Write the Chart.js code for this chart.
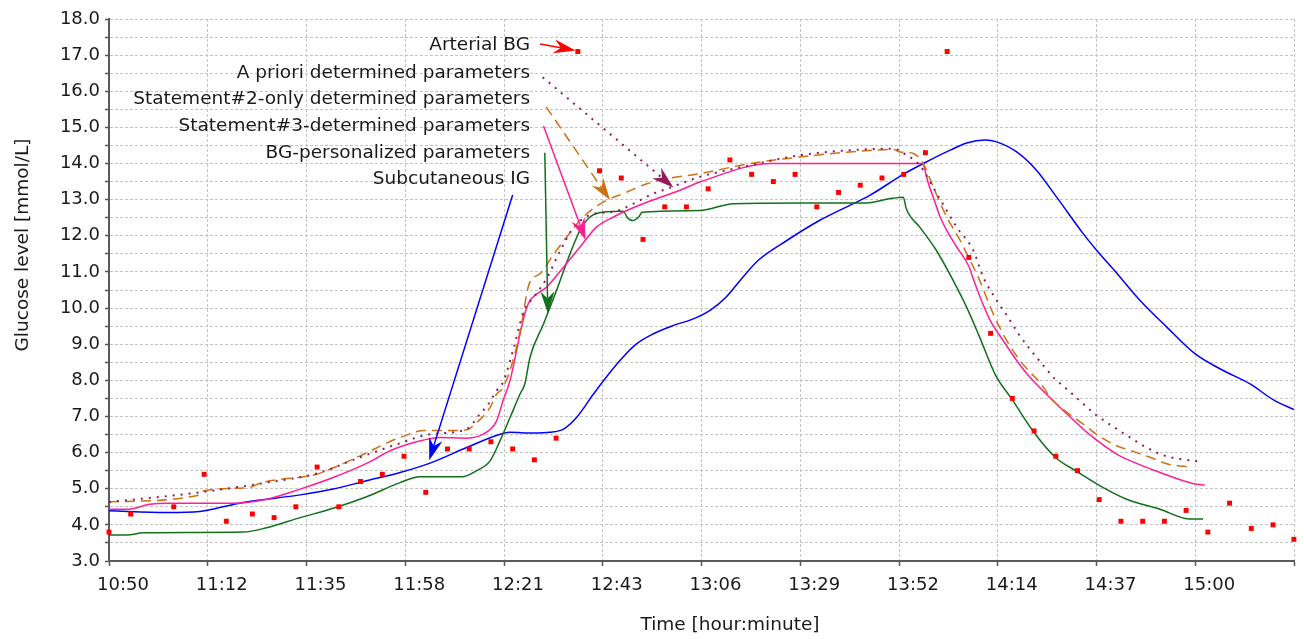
<!DOCTYPE html>
<html>
<head>
<meta charset="utf-8">
<title>Glucose level</title>
<script src="https://cdn.jsdelivr.net/npm/chart.js@4/dist/chart.umd.min.js"></script>
<style>
  html, body { margin: 0; padding: 0; background: #ffffff; }
  #wrap { width: 1304px; height: 639px; }
</style>
</head>
<body>
<div id="wrap"><canvas id="glucoseChart" width="1304" height="639"></canvas></div>
<script>
// x values are minutes after 10:50, one grid step = 250/11 min
const xTickLabels = ['10:50', '11:12', '11:35', '11:58', '12:21', '12:43', '13:06', '13:29', '13:52', '14:14', '14:37', '15:00', ''];
const xStep = 250 / 11;

// Arterial BG samples
const bgTime = [0.0, 5.0, 14.9, 21.9, 27.0, 33.0, 38.0, 43.0, 47.9, 52.9, 57.9, 62.9, 67.9, 72.9, 77.9, 82.9, 87.9, 92.9, 97.9, 102.9,
  107.9, 112.9, 117.9, 122.9, 127.9, 132.9, 137.9, 142.9, 147.9, 152.9, 157.9, 162.9, 167.9, 172.9, 177.9, 182.9, 187.9, 192.9,
  197.9, 202.9, 207.9, 212.9, 217.9, 222.9, 227.9, 232.9, 237.9, 242.9, 247.9, 252.9, 257.9, 262.9, 267.9, 272.7];
const bgLevel = [3.8, 4.3, 4.5, 5.4, 4.1, 4.3, 4.2, 4.5, 5.6, 4.5, 5.2, 5.4, 5.9, 4.9, 6.1, 6.1, 6.3, 6.1, 5.8, 6.4,
  17.1, 13.8, 13.6, 11.9, 12.8, 12.8, 13.3, 14.1, 13.7, 13.5, 13.7, 12.8, 13.2, 13.4, 13.6, 13.7, 14.3, 17.1,
  11.4, 9.3, 7.5, 6.6, 5.9, 5.5, 4.7, 4.1, 4.1, 4.1, 4.4, 3.8, 4.6, 3.9, 4.0, 3.6];

// A priori determined parameters
const aprioriTime = [0.0, 20.9, 36.3, 47.8, 57.8, 67.0, 73.9, 82.3, 85.4, 87.3, 89.2, 90.7, 93.2, 95.5, 97.8, 100.9, 103.9, 107.0,
  111.6, 116.1, 120.7, 125.3, 128.4, 136.0, 147.5, 159.0, 170.5, 180.5, 183.6, 186.6, 190.5, 195.1, 198.9, 201.2, 204.3, 206.9,
  209.3, 211.9, 214.7, 217.7, 220.8, 224.2, 227.3, 231.1, 235.0, 238.8, 242.6, 246.5, 251.5];
const aprioriLevel = [4.63, 4.90, 5.17, 5.42, 5.87, 6.26, 6.51, 6.65, 7.07, 7.34, 7.71, 7.95, 8.92, 9.93, 10.30, 10.86, 11.60, 12.24,
  12.61, 12.66, 12.89, 13.17, 13.30, 13.63, 13.95, 14.23, 14.37, 14.41, 14.23, 13.95, 13.17, 12.24, 11.60, 10.86, 10.21, 9.75,
  9.29, 8.87, 8.46, 8.04, 7.72, 7.35, 7.03, 6.72, 6.42, 6.14, 5.93, 5.82, 5.75];

// Statement#2-only determined parameters
const stmt2Time = [0.0, 20.9, 21.6, 32.1, 35.1, 47.8, 50.9, 57.8, 67.0, 72.7, 77.6, 82.3, 84.6, 87.7, 89.2, 90.7, 93.2, 94.8, 96.7,
  99.2, 102.4, 105.3, 108.4, 111.4, 114.5, 118.4, 123.8, 128.4, 136.0, 147.5, 159.0, 170.5, 180.5, 182.1, 185.1, 187.4, 189.7,
  192.8, 195.9, 198.2, 200.4, 203.5, 206.2, 208.8, 211.6, 214.2, 216.9, 220.4, 224.2, 227.7, 231.9, 235.3, 239.6, 243.8, 248.0];
const stmt2Level = [4.64, 4.83, 4.94, 5.03, 5.17, 5.40, 5.54, 5.91, 6.42, 6.61, 6.61, 6.63, 6.83, 7.25, 7.62, 7.80, 8.64, 9.47, 10.67,
  10.95, 11.50, 11.96, 12.43, 12.75, 12.98, 13.17, 13.44, 13.58, 13.72, 14.00, 14.18, 14.32, 14.39, 14.32, 14.28, 14.00, 13.35,
  12.52, 11.87, 11.32, 10.76, 9.84, 9.19, 8.69, 8.27, 7.95, 7.49, 7.12, 6.79, 6.47, 6.19, 6.05, 5.87, 5.68, 5.61];

// Statement#3-determined parameters
const stmt3Time = [0.0, 4.1, 9.4, 13.3, 28.6, 36.3, 44.0, 51.6, 59.3, 64.7, 70.8, 76.2, 82.3, 86.1, 89.2, 90.7, 92.3, 93.8, 95.0,
  96.1, 96.9, 100.7, 104.6, 108.4, 112.2, 116.1, 118.4, 123.8, 131.4, 136.0, 152.5, 187.4, 187.8, 188.6, 189.7, 191.3, 192.8,
  195.1, 198.0, 198.5, 200.5, 202.8, 205.8, 208.9, 211.5, 218.9, 226.5, 231.9, 234.2, 241.9, 249.6, 252.2];
const stmt3Level = [4.43, 4.43, 4.57, 4.60, 4.60, 4.71, 4.99, 5.31, 5.70, 6.05, 6.30, 6.42, 6.40, 6.51, 6.88, 7.44, 8.00, 8.82, 9.50,
  10.00, 10.21, 10.58, 11.13, 11.69, 12.24, 12.52, 12.66, 12.93, 13.26, 13.49, 14.00, 14.00, 13.81, 13.44, 13.07, 12.52, 12.15,
  11.69, 11.13, 10.95, 10.30, 9.66, 9.10, 8.55, 8.15, 7.25, 6.42, 5.96, 5.82, 5.45, 5.14, 5.10];

// BG-personalized parameters
const personalTime = [0.0, 4.1, 7.9, 30.9, 36.3, 44.0, 51.6, 59.3, 67.0, 71.6, 81.2, 84.6, 87.7, 90.0, 92.3, 94.6, 95.7, 96.9,
  100.0, 103.0, 106.1, 108.4, 110.7, 113.8, 118.4, 119.2, 120.5, 121.9, 122.7, 136.0, 143.7, 159.0, 174.4, 179.8, 182.8, 183.5,
  186.6, 190.4, 194.3, 197.4, 200.4, 204.0, 207.8, 212.7, 217.7, 222.7, 228.1, 234.2, 241.9, 248.8, 251.8];
const personalLevel = [3.72, 3.72, 3.78, 3.80, 3.92, 4.20, 4.46, 4.78, 5.17, 5.33, 5.33, 5.50, 5.77, 6.33, 6.97, 7.62, 7.90, 8.64,
  9.56, 10.49, 11.50, 12.15, 12.52, 12.66, 12.68, 12.52, 12.42, 12.52, 12.65, 12.70, 12.89, 12.91, 12.91, 13.03, 13.07, 12.75,
  12.24, 11.60, 10.76, 10.02, 9.19, 8.15, 7.48, 6.59, 5.88, 5.48, 5.08, 4.71, 4.43, 4.16, 4.16];

// Subcutaneous IG
const igTime = [0.0, 13.3, 20.9, 23.2, 30.9, 44.0, 51.6, 59.3, 67.0, 73.9, 82.3, 90.0, 92.2, 97.7, 101.5, 104.6, 107.6, 111.5,
  113.8, 117.6, 121.4, 125.3, 129.9, 134.5, 138.5, 142.0, 145.5, 149.5, 156.0, 163.6, 171.3, 175.1, 182.8, 187.4, 193.6, 197.4, 201.6,
  204.3, 208.9, 213.5, 218.1, 224.2, 227.3, 231.9, 237.3, 243.4, 250.0, 256.0, 262.6, 268.0, 272.7];
const igLevel = [4.39, 4.34, 4.37, 4.42, 4.62, 4.83, 4.99, 5.22, 5.45, 5.71, 6.14, 6.51, 6.56, 6.54, 6.56, 6.65, 6.97, 7.62,
  7.99, 8.55, 9.01, 9.29, 9.52, 9.70, 9.95, 10.30, 10.80, 11.33, 11.87, 12.43, 12.89, 13.12, 13.70, 14.00, 14.37, 14.57, 14.65,
  14.60, 14.32, 13.81, 13.07, 12.06, 11.60, 10.97, 10.21, 9.48, 8.73, 8.30, 7.90, 7.46, 7.19];

// in-plot legend: text anchored right at labelTime, arrows from/to (minutes, mmol/L)
const legendLabels = ['Arterial BG', 'A priori determined parameters', 'Statement#2-only determined parameters',
  'Statement#3-determined parameters', 'BG-personalized parameters', 'Subcutaneous IG'];
const legendColors = ['#ff0000', '#951a5c', '#d07010', '#ff1f95', '#11701a', '#0000ff'];
const legendDash = [[], [2, 6], [10, 6], [], [], []];
const labelTime = 96.9;
const labelLevel = [17.28, 16.51, 15.78, 15.04, 14.28, 13.57];
const arrowFrom = [[99.2, 17.31], [99.8, 16.39], [100.6, 15.57], [100.0, 15.04], [100.3, 14.30], [92.9, 13.13]];
const arrowTo = [[107.4, 17.13], [129.9, 13.34], [115.3, 12.99], [109.7, 11.88], [101.0, 9.85], [73.7, 5.79]];

const FONT = 'DejaVu Sans';

function toPoints(times, levels) {
  return times.map((t, i) => ({ x: t, y: levels[i] }));
}

function lineSet(label, times, levels, color, dash, width) {
  return {
    label: label,
    data: toPoints(times, levels),
    borderColor: color,
    backgroundColor: color,
    borderWidth: width,
    borderDash: dash,
    pointRadius: 0,
    fill: false,
    cubicInterpolationMode: 'monotone'
  };
}

function drawArrow(ctx, x1, y1, x2, y2, color, dash) {
  const ang = Math.atan2(y2 - y1, x2 - x1);
  const cos = Math.cos(ang), sin = Math.sin(ang);
  const len = 22, half = 7, notch = 15;
  const bx = x2 - notch * cos, by = y2 - notch * sin;
  ctx.strokeStyle = color;
  ctx.lineWidth = dash.length && dash[0] < 4 ? 2 : 1.5;
  ctx.setLineDash(dash);
  ctx.beginPath();
  ctx.moveTo(x1, y1);
  ctx.lineTo(bx, by);
  ctx.stroke();
  ctx.setLineDash([]);
  ctx.fillStyle = color;
  ctx.beginPath();
  ctx.moveTo(x2, y2);
  ctx.lineTo(x2 - len * cos + half * sin, y2 - len * sin - half * cos);
  ctx.lineTo(bx, by);
  ctx.lineTo(x2 - len * cos - half * sin, y2 - len * sin + half * cos);
  ctx.closePath();
  ctx.fill();
}

// axis titles and the arrow legend are drawn by hand
const annotatePlugin = {
  id: 'annotate',
  afterDatasetsDraw(chart) {
    const { ctx, chartArea } = chart;
    const xs = chart.scales.x, ys = chart.scales.y;
    ctx.save();
    ctx.font = '18.5px "' + FONT + '"';
    ctx.textAlign = 'right';
    ctx.textBaseline = 'middle';
    legendLabels.forEach((text, i) => {
      ctx.fillStyle = '#1a1a1a';
      ctx.fillText(text, xs.getPixelForValue(labelTime), ys.getPixelForValue(labelLevel[i]));
      drawArrow(ctx,
        xs.getPixelForValue(arrowFrom[i][0]), ys.getPixelForValue(arrowFrom[i][1]),
        xs.getPixelForValue(arrowTo[i][0]), ys.getPixelForValue(arrowTo[i][1]),
        legendColors[i], legendDash[i]);
    });

    ctx.fillStyle = '#1a1a1a';
    ctx.textAlign = 'center';
    ctx.fillText('Time [hour:minute]', chartArea.left + 621, chartArea.bottom + 64);
    ctx.translate(chartArea.left - 86, chartArea.top + 226);
    ctx.rotate(-Math.PI / 2);
    ctx.fillText('Glucose level [mmol/L]', 0, 0);
    ctx.restore();
  }
};

Chart.defaults.font.family = FONT;
Chart.defaults.font.size = 18;
Chart.defaults.color = '#1a1a1a';

new Chart(document.getElementById('glucoseChart'), {
  type: 'line',
  data: {
    datasets: [
      {
        label: 'Arterial BG',
        data: toPoints(bgTime, bgLevel),
        showLine: false,
        pointStyle: 'rect',
        pointRadius: 3.5,
        pointBackgroundColor: '#ff0000',
        pointBorderWidth: 0,
        backgroundColor: '#ff0000',
        borderColor: '#ff0000',
        clip: false
      },
      lineSet('A priori determined parameters', aprioriTime, aprioriLevel, legendColors[1], legendDash[1], 2),
      lineSet('Statement#2-only determined parameters', stmt2Time, stmt2Level, legendColors[2], legendDash[2], 1.5),
      lineSet('Statement#3-determined parameters', stmt3Time, stmt3Level, legendColors[3], [], 1.5),
      lineSet('BG-personalized parameters', personalTime, personalLevel, legendColors[4], [], 1.5),
      lineSet('Subcutaneous IG', igTime, igLevel, legendColors[5], [], 1.5)
    ]
  },
  options: {
    responsive: false,
    animation: false,
    devicePixelRatio: 1,
    layout: { padding: { left: 0, right: 10, top: 19, bottom: 0 } },
    plugins: {
      legend: { display: false },
      tooltip: { enabled: false }
    },
    scales: {
      x: {
        type: 'linear',
        min: 0,
        max: 12 * xStep,
        afterBuildTicks: (scale) => {
          scale.ticks = xTickLabels.map((lbl, i) => ({ value: i * xStep }));
        },
        afterFit: (scale) => { scale.height = 78; },
        grid: {
          color: '#c4c4c4',
          lineWidth: 1,
          tickColor: '#555555',
          tickLength: 5,
          tickWidth: 1.5
        },
        border: { display: true, color: '#5a5a5a', width: 2, dash: [3, 2] },
        ticks: {
          autoSkip: false,
          maxRotation: 0,
          labelOffset: 14,
          padding: 9,
          color: '#1a1a1a',
          callback: (value, index) => xTickLabels[index]
        }
      },
      y: {
        type: 'linear',
        min: 3,
        max: 18,
        afterFit: (scale) => { scale.width = 109; },
        grid: {
          color: '#c4c4c4',
          lineWidth: 1,
          tickColor: '#555555',
          tickLength: 4,
          tickWidth: 1.5
        },
        border: { display: true, color: '#5a5a5a', width: 2, dash: [3, 2] },
        ticks: {
          stepSize: 0.5,
          autoSkip: false,
          padding: 5,
          color: '#1a1a1a',
          callback: (value) => Number.isInteger(value) ? value.toFixed(1) : ''
        }
      }
    }
  },
  plugins: [annotatePlugin]
});
</script>
</body>
</html>
